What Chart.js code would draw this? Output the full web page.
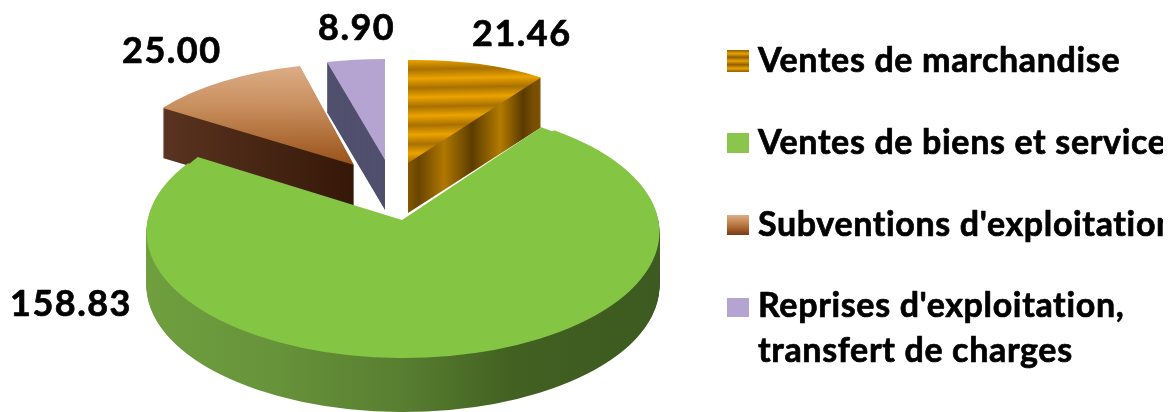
<!DOCTYPE html>
<html><head><meta charset="utf-8">
<style>html,body{margin:0;padding:0;background:#fff}canvas{display:block;filter:blur(0.55px)}</style>
<script src="https://cdn.jsdelivr.net/npm/chart.js@4/dist/chart.umd.min.js"></script>
</head><body><canvas id="c" width="1172" height="412"></canvas>
<script>
const categories = ["Ventes de marchandise","Ventes de biens et services","Subventions d'exploitation","Reprises d'exploitation, transfert de charges"];
const values = [21.46,158.83,25.00,8.90];
const legendLines = [["Ventes de marchandise"],["Ventes de biens et services"],["Subventions d'exploitation"],["Reprises d'exploitation,","transfert de charges"]];

// 3D look: per-slice placement on the page (apex, horizontal and "up" radius vectors, extrusion depth)
const geom = [
 {A:[408,163],U:[226,-4],V:[0,-103],d:50},
 {A:[403,232],U:[256.5,0],V:[0,-126],d:54,patch:{A:[402,220],U:[241.3,0.3],V:[-3.5,-115.1]}},
 {A:[354,165],U:[232,1.6],V:[6,-102],d:50},
 {A:[385,160],U:[225,1.5],V:[0,-101],d:50}
];
const drawOrder=[2,3,0,1];
const labelPos=[[472,46],[10,316],[122,63],[318,40]];
const legendY=[[72],[154],[236],[317,362]];
const swatchY=[[50,22],[133,20],[215,20],[298,19]];
const LABEL_FONT="bold 36px Lato";
const LEGEND_FONT="bold 34px Lato";

function stops(g,arr){arr.forEach(([p,c])=>g.addColorStop(p,c));return g;}
function localGrad(ctx,x0,y0,x1,y1){
  const inv=ctx.getTransform().inverse();
  const a=inv.transformPoint(new DOMPoint(x0,y0)),b=inv.transformPoint(new DOMPoint(x1,y1));
  return ctx.createLinearGradient(a.x,a.y,b.x,b.y);
}
function fills(ctx,i){
  if(i===0){
    const t=localGrad(ctx,0,58,0,170);for(let k=0;k<6;k++){t.addColorStop(k/6,'#a87000');t.addColorStop((k+.5)/6,'#eba300');}t.addColorStop(1,'#a87000');
    const s=stops(localGrad(ctx,408,0,541,0),[[0,'#a86f00'],[.18,'#6a4500'],[.36,'#b07800'],[.56,'#5c3c00'],[.76,'#b37c00'],[.92,'#5a3a00'],[1,'#7a5000']]);
    return {top:t,side:s};
  }
  if(i===1){
    return {top:'#84c644',side:stops(localGrad(ctx,147,0,660,0),[[0,'#6f9f3f'],[.25,'#67933a'],[.5,'#587e30'],[.72,'#416021'],[1,'#3d5a20']])};
  }
  if(i===2){
    return {top:stops(localGrad(ctx,0,66,0,168),[[0,'#dcae88'],[.4,'#c98f5e'],[1,'#985018']]),
            side:stops(localGrad(ctx,163,0,355,0),[[0,'#5a3420'],[1,'#361808']])};
  }
  return {top:'#b5a4d2',side:'#50506e'};
}
const pie3d={id:'pie3d',
 beforeDatasetsDraw(chart){
  const ctx=chart.ctx,arcs=chart.getDatasetMeta(0).data;
  drawOrder.forEach(i=>{
    const arc=arcs[i],g=geom[i],R=arc.outerRadius,o=arc.options;
    const m=(dy,p=g)=>{
      const a=p.U[0]/R,b=p.U[1]/R,c=-p.V[0]/R,d=-p.V[1]/R;
      ctx.setTransform(a,b,c,d,p.A[0]-a*arc.x-c*arc.y,p.A[1]+dy-b*arc.x-d*arc.y);
    };
    ctx.save();
    m(0);const f=fills(ctx,i);
    arc.options=Object.assign(Object.create(o),{backgroundColor:f.side});
    for(let dy=g.d;dy>0;dy--){m(dy);arc.draw(ctx);}
    m(0);
    arc.options=Object.assign(Object.create(o),{backgroundColor:f.top});
    arc.draw(ctx);
    if(g.patch){m(0,g.patch);arc.draw(ctx);}
    arc.options=o;
    ctx.restore();
  });
  return false;
 },
 afterDraw(chart){
  const ctx=chart.ctx;
  ctx.save();
  ctx.fillStyle='#000';ctx.strokeStyle='#000';ctx.lineWidth=0.7;ctx.lineJoin='round';
  ctx.font=LABEL_FONT;ctx.textBaseline='alphabetic';ctx.textAlign='left';
  ctx.letterSpacing='1.5px';
  values.forEach((v,i)=>{const s=v.toFixed(2);ctx.fillText(s,labelPos[i][0],labelPos[i][1]);ctx.strokeText(s,labelPos[i][0],labelPos[i][1]);});
  const og=ctx.createLinearGradient(0,50,0,72);
  for(let k=0;k<3;k++){og.addColorStop(k/3,'#8f6000');og.addColorStop((k+.5)/3,'#eaa000');}og.addColorStop(1,'#8f6000');
  const sw=[og,'#8ac64c',stops(ctx.createLinearGradient(0,215,0,235),[[0,'#dcae88'],[.5,'#b9773f'],[1,'#7a3a12']]),'#b5a4d2'];
  swatchY.forEach((s,i)=>{ctx.fillStyle=sw[i];ctx.fillRect(727,s[0],22,s[1]);});
  ctx.beginPath();ctx.rect(0,0,1163,412);ctx.clip();
  ctx.fillStyle='#000';ctx.font=LEGEND_FONT;ctx.letterSpacing='0.65px';
  legendLines.forEach((ls,i)=>ls.forEach((t,k)=>{ctx.fillText(t,758,legendY[i][k]);ctx.strokeText(t,758,legendY[i][k]);}));
  ctx.restore();
 }
};
new Chart(document.getElementById('c'),{
 type:'pie',
 data:{labels:categories,datasets:[{data:values,backgroundColor:['#eba300','#84c644','#c98f5e','#b5a4d2'],borderWidth:0,hoverOffset:0}]},
 options:{responsive:false,animation:false,events:[],layout:{padding:0},
  plugins:{legend:{display:false},tooltip:{enabled:false}}},
 plugins:[pie3d]
});
</script></body></html>
